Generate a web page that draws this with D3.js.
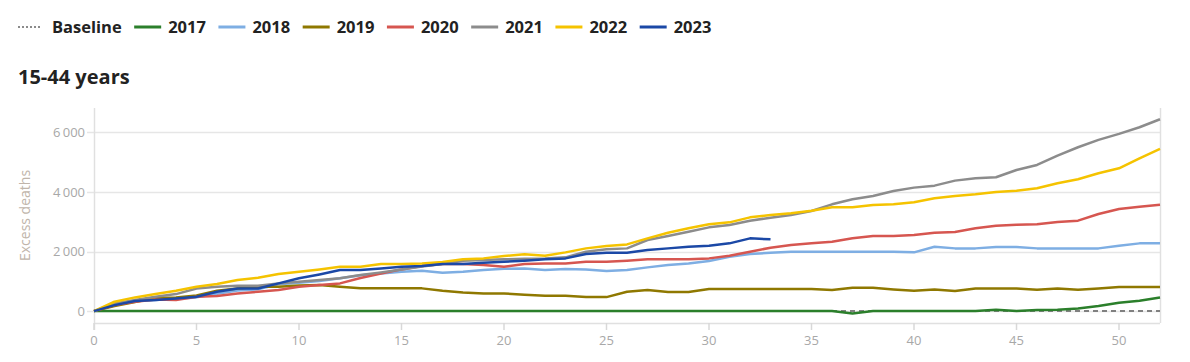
<!DOCTYPE html>
<html>
<head>
<meta charset="utf-8">
<script src="https://cdn.jsdelivr.net/npm/d3@7"></script>
<style>
  body { margin: 0; background: #fff; font-family: "Open Sans", sans-serif; }
  svg text { font-family: "Open Sans", sans-serif; }
</style>
</head>
<body>
<script>
// Data: cumulative excess deaths by week, 15-44 years
var weeks = d3.range(0, 53);
var years = ["2017", "2018", "2019", "2020", "2021", "2022", "2023"];
var colors = ["#2b7f2b", "#7eaee3", "#8f7800", "#d65650", "#8c8c8c", "#f5c300", "#1b48a6"];

var s2017 = [0,0,0,0,0,0,0,0,0,0,0,0,0,0,0,0,0,0,0,0,0,0,0,0,0,0,0,0,0,0,0,0,0,0,0,0,0,-80,0,0,0,0,0,0,45,0,40,45,90,170,280,350,460];
var s2018 = [0,220,336,370,415,460,580,690,730,900,950,1010,1100,1200,1266,1322,1356,1288,1322,1378,1420,1434,1378,1412,1400,1344,1378,1468,1546,1602,1680,1826,1916,1960,1994,1994,1994,1994,1994,1994,1972,2162,2106,2106,2151,2151,2106,2106,2106,2106,2196,2274,2274];
var s2019 = [0,168,302,440,460,527,683,760,818,818,862,874,818,763,763,763,763,683,627,594,594,549,515,515,470,470,650,705,638,638,739,739,739,739,739,739,705,784,784,728,683,728,672,762,762,762,717,762,717,762,806,806,806];
var s2020 = [0,200,314,392,370,480,504,594,650,705,818,874,930,1110,1260,1400,1512,1580,1580,1546,1490,1580,1602,1602,1658,1658,1692,1737,1737,1737,1770,1860,1994,2129,2218,2275,2330,2443,2521,2521,2555,2633,2655,2779,2868,2902,2913,2991,3036,3260,3429,3507,3574];
var s2021 = [0,258,370,480,571,760,818,850,850,930,986,1042,1100,1210,1300,1400,1500,1580,1692,1714,1737,1760,1770,1804,1994,2073,2106,2387,2521,2667,2812,2891,3036,3137,3227,3361,3585,3754,3866,4030,4146,4213,4381,4459,4493,4739,4908,5221,5501,5748,5950,6174,6443];
var s2022 = [0,314,460,571,683,818,907,1042,1120,1244,1322,1400,1490,1490,1580,1580,1602,1647,1737,1770,1849,1905,1860,1972,2106,2185,2240,2443,2633,2779,2913,2980,3148,3227,3283,3373,3485,3485,3563,3585,3653,3787,3866,3922,4000,4045,4123,4291,4426,4627,4796,5132,5445];
var s2023 = [0,200,336,370,425,480,650,760,760,930,1100,1232,1378,1378,1434,1490,1512,1580,1580,1625,1658,1692,1737,1770,1916,1960,1960,2050,2106,2162,2196,2275,2443,2409];
var baseline = weeks.map(function() { return 0; });

var series = [s2017, s2018, s2019, s2020, s2021, s2022, s2023];
var xTicks = [0, 5, 10, 15, 20, 25, 30, 35, 40, 45, 50];
var yTicks = [0, 2000, 4000, 6000];

var width = 1190, height = 362;
var plot = {left: 94, right: 1160, top: 108, bottom: 323};

var svg = d3.select("body").append("svg")
    .attr("width", width)
    .attr("height", height);

var x = d3.scaleLinear().domain([0, 52]).range([plot.left, plot.right]);
var y = d3.scaleLinear().domain([-400, 6820]).range([plot.bottom, plot.top]);

// Grid lines
svg.append("g")
    .selectAll("line")
    .data(yTicks)
  .enter().append("line")
    .attr("x1", plot.left - 7)
    .attr("x2", plot.right)
    .attr("y1", function(d) { return Math.round(y(d)) + 0.5; })
    .attr("y2", function(d) { return Math.round(y(d)) + 0.5; })
    .attr("stroke", "#e6e6e6")
    .attr("stroke-width", 1.5);

// Y tick labels
svg.append("g")
    .selectAll("text")
    .data(yTicks)
  .enter().append("text")
    .attr("x", plot.left - 9)
    .attr("y", function(d) { return y(d); })
    .attr("dy", "0.35em")
    .attr("text-anchor", "end")
    .attr("fill", "#a8a8a8")
    .style("font-size", "13px")
    .text(function(d) { return d3.format(",")(d).replace(",", "\u2009"); });

// Frame lines: left, right, bottom
svg.append("line")
    .attr("x1", plot.left + 0.5).attr("x2", plot.left + 0.5)
    .attr("y1", plot.top).attr("y2", plot.bottom + 7)
    .attr("stroke", "#e0e0e0").attr("stroke-width", 1.5);
svg.append("line")
    .attr("x1", plot.right + 0.5).attr("x2", plot.right + 0.5)
    .attr("y1", plot.top).attr("y2", plot.bottom)
    .attr("stroke", "#e0e0e0").attr("stroke-width", 1.5);
svg.append("line")
    .attr("x1", plot.left).attr("x2", plot.right)
    .attr("y1", plot.bottom + 0.5).attr("y2", plot.bottom + 0.5)
    .attr("stroke", "#e0e0e0").attr("stroke-width", 1.5);

// X axis ticks and labels
var xg = svg.append("g");
xg.selectAll("line")
    .data(xTicks)
  .enter().append("line")
    .attr("x1", function(d) { return x(d); })
    .attr("x2", function(d) { return x(d); })
    .attr("y1", plot.bottom)
    .attr("y2", plot.bottom + 7)
    .attr("stroke", "#d8d8d8")
    .attr("stroke-width", 1.5);
xg.selectAll("text")
    .data(xTicks)
  .enter().append("text")
    .attr("x", function(d) { return x(d); })
    .attr("y", plot.bottom + 22)
    .attr("text-anchor", "middle")
    .attr("fill", "#a8a8a8")
    .style("font-size", "13px")
    .text(function(d) { return d; });

// Y axis title
svg.append("text")
    .attr("transform", "translate(30," + ((plot.top + plot.bottom) / 2) + ") rotate(-90)")
    .attr("text-anchor", "middle")
    .attr("fill", "#c0b5aa")
    .style("font-size", "14px")
    .text("Excess deaths");

var line = d3.line()
    .x(function(d, i) { return x(i); })
    .y(function(d) { return y(d); });

// Baseline
svg.append("path")
    .datum(baseline)
    .attr("fill", "none")
    .attr("stroke", "#808080")
    .attr("stroke-width", 2)
    .attr("stroke-dasharray", "5,4")
    .attr("d", line);

// Year lines
svg.append("g")
    .selectAll("path")
    .data(series)
  .enter().append("path")
    .attr("fill", "none")
    .attr("stroke", function(d, i) { return colors[i]; })
    .attr("stroke-width", 2.5)
    .attr("stroke-linejoin", "round")
    .attr("d", line);

// Title
svg.append("text")
    .attr("x", 18)
    .attr("y", 84)
    .attr("fill", "#222")
    .style("font-size", "20px")
    .style("font-weight", "bold")
    .text("15-44 years");

// Legend
var legend = svg.append("g").attr("transform", "translate(18,27)");
legend.append("line")
    .attr("x1", 0).attr("x2", 22)
    .attr("stroke", "#666").attr("stroke-width", 1.5)
    .attr("stroke-dasharray", "2,2");
var lx = 34;
var items = [{label: "Baseline", color: null}].concat(years.map(function(d, i) { return {label: d, color: colors[i]}; }));
items.forEach(function(it) {
  if (it.color) {
    legend.append("line")
        .attr("x1", lx).attr("x2", lx + 27)
        .attr("stroke", it.color).attr("stroke-width", 3);
    lx += 34;
  }
  var t = legend.append("text")
      .attr("x", lx)
      .attr("dy", "0.35em")
      .attr("fill", "#222")
      .style("font-size", "16.5px")
      .style("font-weight", "bold")
      .text(it.label);
  lx += t.node().getComputedTextLength() + 12.5;
});
</script>
</body>
</html>
